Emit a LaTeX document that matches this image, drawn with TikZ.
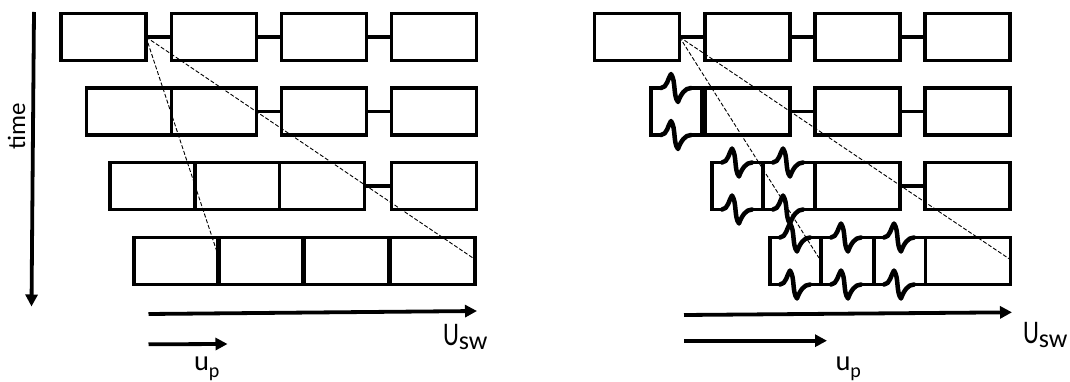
\documentclass[tikz,border=0pt]{standalone}
\usepackage{fontspec}
\setmainfont{Carlito}
\usepackage{graphicx}
\usetikzlibrary{arrows.meta}
\tikzset{
  cell/.style={draw, line width=3.6pt, rectangle, minimum width=85pt, minimum height=47pt,
    inner sep=0pt, outer sep=0pt, anchor=north west},
  link/.style={line width=3.6pt},
  dsh/.style={line width=0.9pt, dash pattern=on 4pt off 2pt},
  arr/.style={line width=3.8pt, -{Triangle[length=12pt,width=12pt]}},
  edge3/.style={line width=3.6pt, line cap=round},
  brk/.style={line width=4.5pt, line cap=round, line join=round},
  wig/.pic={\draw[brk] (0,0) .. controls (6,0) and (7,-10) .. (10,-14)
      .. controls (15,-7) and (12,8) .. (17,14)
      .. controls (20,6) and (24,0) .. (30,0);},
  lbl/.style={anchor=base west, inner sep=0pt, outer sep=0pt}
}
\newcommand{\crushbox}[4]{%
  \draw[edge3] ({#1+10},#3) -- (#1,#3) -- (#1,#4) -- ({#1+10},#4);
  \draw[edge3] ({#1+40},#3) -- (#2,#3) -- (#2,#4) -- ({#1+40},#4);
  \pic at ({#1+10},#3) {wig};
  \pic at ({#1+10},#4) {wig};
}
\begin{document}
\begin{tikzpicture}[x=1pt,y=-1pt]
\useasboundingbox (0,0) rectangle (1070,382);
% ---------- left panel ----------
\node[cell] (a11) at (61,13.5) {};
\node[cell] (a12) at (171.5,13.5) {};
\node[cell] (a13) at (281.5,13.5) {};
\node[cell] (a14) at (391.5,13.5) {};
\node[cell] (a21) at (86.5,88) {};
\node[cell] (a22) at (171.5,88) {};
\node[cell] (a23) at (281.5,88) {};
\node[cell] (a24) at (391.5,88) {};
\node[cell] (a31) at (110,162.5) {};
\node[cell] (a32) at (194.5,162.5) {};
\node[cell] (a33) at (279.5,162.5) {};
\node[cell] (a34) at (391.5,162.5) {};
\node[cell] (a41) at (134,237.5) {};
\node[cell] (a42) at (218,237.5) {};
\node[cell] (a43) at (304,237.5) {};
\node[cell] (a44) at (390,237.5) {};
\draw[link] (a11.east) -- (a12.west);
\draw[link] (a12.east) -- (a13.west);
\draw[link] (a13.east) -- (a14.west);
\draw[link] (a22.east) -- (a23.west);
\draw[link] (a23.east) -- (a24.west);
\draw[link] (a33.east) -- (a34.west);
\coordinate (la) at (217,252);
\coordinate (lb) at (473,258);
\draw[dsh] (a11.east) -- (la);
\draw[dsh] (a11.east) -- (lb);
% ---------- right panel ----------
\node[cell] (b11) at (594.5,13.5) {};
\node[cell] (b12) at (705,13.5) {};
\node[cell] (b13) at (815,13.5) {};
\node[cell] (b14) at (925,13.5) {};
\crushbox{651}{701.5}{88}{135}
\node[cell] (b22) at (705,88) {};
\node[cell] (b23) at (815,88) {};
\node[cell] (b24) at (925,88) {};
\crushbox{712}{763}{162.5}{209.5}
\crushbox{763}{815}{162.5}{209.5}
\node[cell] (b33) at (815,162.5) {};
\node[cell] (b34) at (925,162.5) {};
\crushbox{770}{821}{237.5}{284.5}
\crushbox{821}{874}{237.5}{284.5}
\crushbox{874}{925.5}{237.5}{284.5}
\node[cell] (b44) at (925.5,237.5) {};
\draw[link] (b11.east) -- (b12.west);
\draw[link] (b12.east) -- (b13.west);
\draw[link] (b13.east) -- (b14.west);
\draw[link] (b22.east) -- (b23.west);
\draw[link] (b23.east) -- (b24.west);
\draw[link] (b33.east) -- (b34.west);
\coordinate (ra) at (819,258);
\coordinate (rb) at (1009.5,259);
\draw[dsh] (b11.east) -- (ra);
\draw[dsh] (b11.east) -- (rb);
% ---------- arrows ----------
\coordinate (t0) at (34,12);
\coordinate (t1) at (31.5,306.5);
\draw[arr] (t0) -- (t1);
\node[rotate=90, inner sep=0pt, font=\fontsize{25}{25}\selectfont] (tl) at (16.5,126.5) {time};
\coordinate (ua0) at (148.5,314);
\coordinate (ua1) at (477,311);
\draw[arr] (ua0) -- (ua1);
\coordinate (pa0) at (148.5,344.3);
\coordinate (pa1) at (227.5,344);
\draw[arr] (pa0) -- (pa1);
\coordinate (ub0) at (684,315);
\coordinate (ub1) at (1012,312.3);
\draw[arr] (ub0) -- (ub1);
\coordinate (pb0) at (684,340.7);
\coordinate (pb1) at (827,340.7);
\draw[arr] (pb0) -- (pb1);
% ---------- labels ----------
\node[lbl] (usw1) at (443,345) {\fontsize{33}{33}\selectfont\scalebox{0.75}[1]{U}\raisebox{-4pt}{\fontsize{26}{26}\selectfont sw}};
\node[lbl] (usw2) at (1023,343.5) {\fontsize{33}{33}\selectfont\scalebox{0.75}[1]{U}\raisebox{-4pt}{\fontsize{26}{26}\selectfont sw}};
\node[lbl] (up1) at (194,370) {\fontsize{28.5}{28.5}\selectfont u\raisebox{-7pt}{\fontsize{20}{20}\selectfont p}};
\node[lbl] (up2) at (835.5,370) {\fontsize{28.5}{28.5}\selectfont u\raisebox{-7pt}{\fontsize{20}{20}\selectfont p}};
\end{tikzpicture}
\end{document}
